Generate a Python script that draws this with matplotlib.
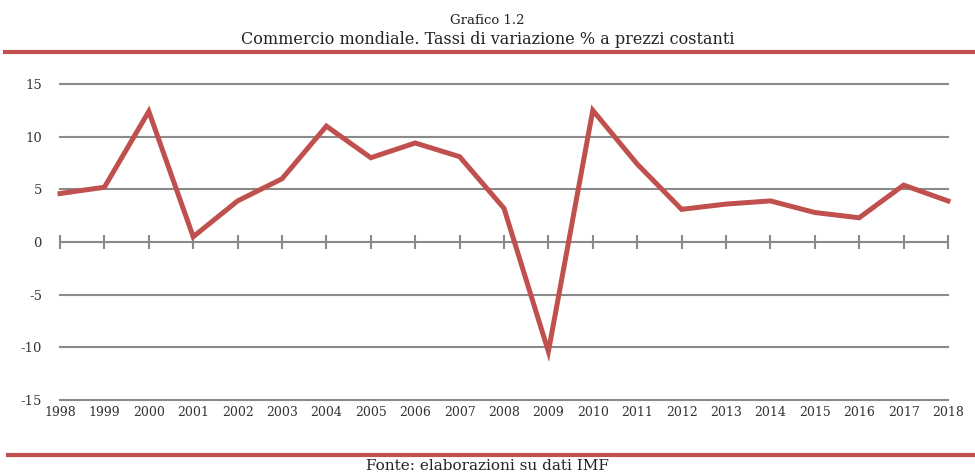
import matplotlib
matplotlib.use("Agg")
import matplotlib.pyplot as plt
from matplotlib.lines import Line2D

years = ["1998", "1999", "2000", "2001", "2002", "2003", "2004", "2005", "2006", "2007",
         "2008", "2009", "2010", "2011", "2012", "2013", "2014", "2015", "2016", "2017", "2018"]
values = [4.6, 5.2, 12.4, 0.5, 3.9, 6.0, 11.0, 8.0, 9.4, 8.1,
          3.2, -10.4, 12.5, 7.4, 3.1, 3.6, 3.9, 2.8, 2.3, 5.4, 3.9]
yticks = [15, 10, 5, 0, -5, -10, -15]

title1 = "Grafico 1.2"
title2 = "Commercio mondiale. Tassi di variazione % a prezzi costanti"
source = "Fonte: elaborazioni su dati IMF"

font = "DejaVu Serif"
red = "#c0504d"
grey = "#8a8a8a"

fig = plt.figure(figsize=(9.75, 4.74), dpi=100)
ax = fig.add_axes([60/975, 1-400/474, (948-60)/975, (400-84)/474])

x = list(range(len(years)))
ax.plot(x, values, color=red, lw=3.6, solid_joinstyle="miter", zorder=3, clip_on=False)

ax.set_xlim(0, len(years)-1)
ax.set_ylim(-15, 15)
ax.set_yticks(yticks)
ax.set_yticklabels([str(v) for v in yticks], fontfamily=font, fontsize=9.5, color="#333333")
ax.tick_params(axis="y", length=0, pad=13)
for v in yticks:
    ax.axhline(v, color=grey, lw=1.5, zorder=1, clip_on=False)

for s in ax.spines.values():
    s.set_visible(False)

ax.set_xticks(x)
ax.set_xticklabels(years, fontfamily=font, fontsize=9, color="#333333")
ax.tick_params(axis="x", length=0, pad=4)

sec = ax.secondary_xaxis(0.5)
sec.set_xticks(x)
sec.set_xticklabels([])
sec.tick_params(axis="x", length=10, direction="inout", color=grey, width=1.5)
for s in sec.spines.values():
    s.set_visible(False)

fig.text(0.5, 1-20/474, title1, ha="center", va="center", fontfamily=font, fontsize=9.5, color="#222222")
fig.text(0.5, 1-40/474, title2, ha="center", va="center", fontfamily=font, fontsize=11.5, color="#222222")
fig.text(0.5, 1-466/474, source, ha="center", va="center", fontfamily=font, fontsize=11, color="#222222")

fig.add_artist(Line2D([5/975, 1.0], [1-52/474, 1-52/474], color=red, lw=3, transform=fig.transFigure))
fig.add_artist(Line2D([8/975, 1.0], [1-455/474, 1-455/474], color=red, lw=3, transform=fig.transFigure))

fig.savefig("out.png", dpi=100)
